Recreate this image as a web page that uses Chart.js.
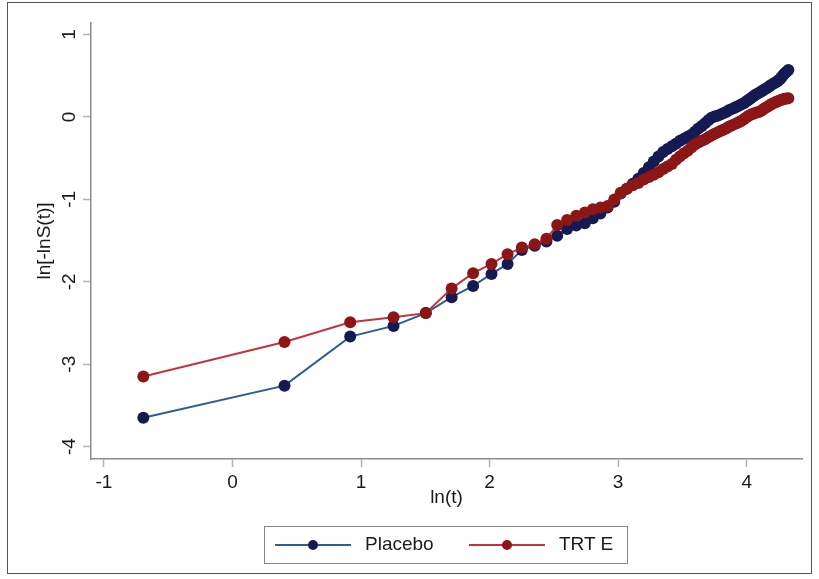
<!DOCTYPE html>
<html>
<head>
<meta charset="utf-8">
<script src="https://cdn.jsdelivr.net/npm/chart.js@4.4.1/dist/chart.umd.min.js"></script>
<style>
  html, body { margin: 0; padding: 0; background: #fff; }
  #wrap { position: relative; width: 819px; height: 579px; font-family: "Liberation Sans", Arial, sans-serif; }
  #chart { position: absolute; left: 0; top: 0; }
  #frame { position: absolute; left: 7px; top: 2px; width: 803px; height: 570px; border: 1.5px solid #555; pointer-events: none; }
  #legend { position: absolute; left: 264px; top: 526px; width: 362px; height: 36px; border: 1.5px solid #888; }
  .lg-line { position: absolute; top: 17px; height: 2px; }
  .lg-dot { position: absolute; top: 13px; width: 10px; height: 10px; border-radius: 50%; }
  .lg-text { position: absolute; top: 6px; font-size: 19px; color: #1a1a1a; }
</style>
</head>
<body>
<div id="wrap">
  <canvas id="chart" width="819" height="579"></canvas>
  <div id="frame"></div>
  <div id="legend"></div>
</div>
<script>
// ---------- DATA ----------
// x = ln(t), shared by both groups; y = ln[-ln S(t)]
const lnT = [-0.693, 0.405, 0.916, 1.253, 1.504, 1.705, 1.872, 2.015, 2.140, 2.251,
  2.351, 2.442, 2.526, 2.603, 2.674, 2.741, 2.803, 2.862, 2.918, 2.970,
  3.020, 3.068, 3.114, 3.157, 3.199, 3.239, 3.277, 3.314, 3.350, 3.384,
  3.418, 3.450, 3.481, 3.512, 3.541, 3.570, 3.597, 3.624, 3.651, 3.676,
  3.701, 3.726, 3.750, 3.773, 3.796, 3.818, 3.840, 3.861, 3.882, 3.902,
  3.922, 3.942, 3.961, 3.980, 3.998, 4.016, 4.034, 4.052, 4.069, 4.086,
  4.103, 4.119, 4.135, 4.151, 4.167, 4.182, 4.197, 4.212, 4.227, 4.241,
  4.256, 4.270, 4.284, 4.297, 4.311, 4.324];

const placebo = [-3.65, -3.26, -2.665, -2.535, -2.38, -2.187, -2.05, -1.904, -1.783, -1.613,
  -1.564, -1.512, -1.44, -1.358, -1.318, -1.29, -1.228, -1.17, -1.10, -1.03,
  -0.93, -0.87, -0.81, -0.75, -0.68, -0.61, -0.54, -0.48, -0.425, -0.39,
  -0.355, -0.325, -0.29, -0.265, -0.24, -0.215, -0.18, -0.14, -0.11, -0.075,
  -0.04, -0.01, 0.005, 0.015, 0.03, 0.045, 0.06, 0.08, 0.095, 0.11,
  0.125, 0.14, 0.155, 0.17, 0.19, 0.21, 0.23, 0.25, 0.27, 0.285,
  0.30, 0.315, 0.33, 0.345, 0.36, 0.38, 0.395, 0.41, 0.42, 0.435,
  0.455, 0.48, 0.51, 0.53, 0.55, 0.57];

const trtE = [-3.15, -2.73, -2.49, -2.43, -2.38, -2.08, -1.896, -1.783, -1.665, -1.585,
  -1.544, -1.479, -1.31, -1.249, -1.20, -1.16, -1.119, -1.10, -1.08, -1.00,
  -0.92, -0.87, -0.83, -0.80, -0.76, -0.73, -0.70, -0.67, -0.63, -0.60,
  -0.57, -0.52, -0.48, -0.44, -0.41, -0.37, -0.335, -0.31, -0.29, -0.27,
  -0.245, -0.225, -0.205, -0.19, -0.17, -0.155, -0.14, -0.12, -0.105, -0.09,
  -0.075, -0.06, -0.045, -0.025, -0.005, 0.015, 0.03, 0.04, 0.05, 0.058,
  0.065, 0.08, 0.10, 0.115, 0.13, 0.145, 0.16, 0.17, 0.18, 0.19,
  0.20, 0.21, 0.215, 0.22, 0.225, 0.228];

const xTicks = [-1, 0, 1, 2, 3, 4];
const yTicks = [-4, -3, -2, -1, 0, 1];
const seriesNames = ["Placebo", "TRT E"];

const NAVY = "#161a52", NAVY_LINE = "#2e5c96";
const MAROON = "#8c1616", MAROON_LINE = "#c6333b";
const FONT = "Liberation Sans, Arial, sans-serif";
const INK = "#1a1a1a";

const toPts = ys => lnT.map((x, i) => ({ x, y: ys[i] }));

// y tick labels are rotated (Stata style), drawn through the y scale
const rotatedYLabels = {
  id: "rotatedYLabels",
  afterDraw(chart) {
    const y = chart.scales.y, ctx = chart.ctx;
    ctx.save();
    ctx.font = "19px " + FONT;
    ctx.fillStyle = INK;
    ctx.textAlign = "center";
    ctx.textBaseline = "alphabetic";
    for (const t of y.ticks) {
      ctx.save();
      ctx.translate(75, y.getPixelForValue(t.value));
      ctx.rotate(-Math.PI / 2);
      ctx.fillText(String(t.value), 0, 0);
      ctx.restore();
    }
    ctx.restore();
  }
};

new Chart(document.getElementById("chart"), {
  type: "line",
  data: {
    datasets: [
      {
        label: seriesNames[0], data: toPts(placebo), order: 1,
        borderColor: NAVY_LINE, borderWidth: 2,
        pointBackgroundColor: NAVY, pointBorderColor: NAVY, pointRadius: 6, pointBorderWidth: 0,
        tension: 0, fill: false
      },
      {
        label: seriesNames[1], data: toPts(trtE), order: 0,
        borderColor: MAROON_LINE, borderWidth: 2,
        pointBackgroundColor: MAROON, pointBorderColor: MAROON, pointRadius: 6, pointBorderWidth: 0,
        tension: 0, fill: false
      }
    ]
  },
  options: {
    responsive: false,
    animation: false,
    layout: { padding: { left: 0, top: 23, right: 17, bottom: 66 } },
    plugins: { legend: { display: false }, tooltip: { enabled: false } },
    scales: {
      x: {
        type: "linear", min: -1.1, max: 4.43,
        afterBuildTicks: s => { s.ticks = xTicks.map(v => ({ value: v })); },
        afterFit: s => { s.height = 54; },
        ticks: { color: INK, font: { family: FONT, size: 19 }, padding: 4 },
        grid: { display: true, drawOnChartArea: false, drawTicks: true, tickLength: 8, tickColor: "#a9b6ba", tickWidth: 1.5 },
        border: { display: true, color: "#8c8c8c", width: 1.5 },
        title: { display: true, text: "ln(t)", color: INK, font: { family: FONT, size: 19 }, padding: { top: 0, bottom: 4 } }
      },
      y: {
        type: "linear", min: -4.15, max: 1.14,
        afterBuildTicks: s => { s.ticks = yTicks.map(v => ({ value: v })); },
        afterFit: s => { s.width = 91; },
        ticks: { display: false },
        grid: { display: true, drawOnChartArea: false, drawTicks: true, tickLength: 8, tickColor: "#a9b6ba", tickWidth: 1.5 },
        border: { display: true, color: "#8c8c8c", width: 1.5 },
        title: { display: true, text: "ln[-lnS(t)]", color: INK, font: { family: FONT, size: 19 }, padding: { top: 33, bottom: 0 } }
      }
    }
  },
  plugins: [rotatedYLabels]
});

// ---------- LEGEND (html, line + dot like the Stata key) ----------
const legendItems = [
  { name: seriesNames[0], line: NAVY_LINE, dot: NAVY, x: 10 },
  { name: seriesNames[1], line: MAROON_LINE, dot: MAROON, x: 204 }
];
const lg = document.getElementById("legend");
for (const it of legendItems) {
  lg.insertAdjacentHTML("beforeend",
    `<div class="lg-line" style="left:${it.x}px;width:76px;background:${it.line}"></div>` +
    `<div class="lg-dot" style="left:${it.x + 33}px;background:${it.dot}"></div>` +
    `<div class="lg-text" style="left:${it.x + 90}px">${it.name}</div>`);
}
</script>
</body>
</html>
